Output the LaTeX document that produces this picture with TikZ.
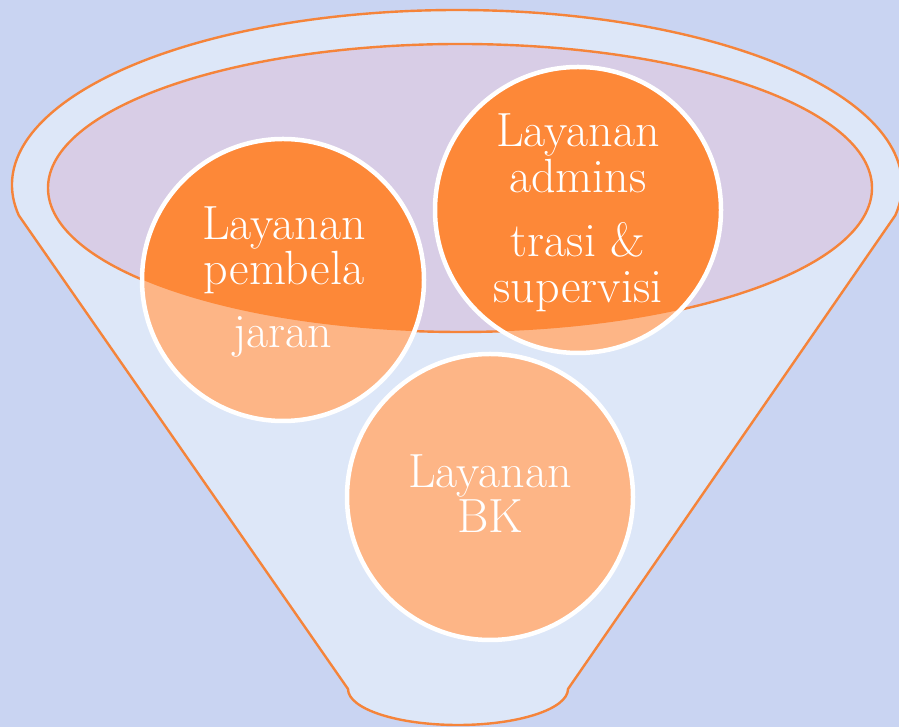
\documentclass[tikz,border=0pt]{standalone}
\usepackage{tikz}
\definecolor{Sky}{HTML}{C9D4F2}
\definecolor{Mist}{HTML}{DDE7F8}
\definecolor{Blush}{HTML}{D8CDE6}
\definecolor{Rim}{HTML}{F5843A}
\definecolor{Deep}{HTML}{FD8838}
\definecolor{Soft}{HTML}{FDB586}
\tikzset{
  bubble/.style={circle,fill=Soft,draw=none,inner sep=0pt},
  ring/.style={draw=white,line width=4.5pt},
  rim/.style={draw=Rim,line width=2.4pt},
  txt/.style={anchor=base,text=white,inner sep=0pt,font=\fontsize{48}{50}\selectfont}
}

\begin{document}
\begin{tikzpicture}[x=1pt,y=1pt]
  \fill[Sky] (0,0) rectangle (899,727);
  \useasboundingbox (0,0) rectangle (899,727);
  % funnel body
  \coordinate (lc) at (18.8,511.6); \coordinate (rb) at (568,38);
  \coordinate (mid) at (460,539);
  \filldraw[rim,fill=Mist] (lc) arc[start angle=190,end angle=-10,x radius=445pt,y radius=175pt]
    -- (rb) arc[start angle=0,end angle=-180,x radius=110pt,y radius=36pt] -- cycle;
  \filldraw[rim,fill=Blush] (mid) ellipse[x radius=412pt,y radius=144pt];
  % bubbles
  \node[bubble,minimum size=282pt] (pem) at (283,447) {};
  \node[bubble,minimum size=286pt] (adm) at (578,517) {};
  \node[bubble,minimum size=286pt] (bk) at (490,230) {};
  \begin{scope}
    \clip (mid) ellipse[x radius=412pt,y radius=144pt];
    \fill[Deep] (pem.center) circle[radius=141pt] (adm.center) circle[radius=143pt];
  \end{scope}
  \draw[ring] (pem.center) circle[radius=141pt] (adm.center) circle[radius=143pt]
    (bk.center) circle[radius=143pt];
  % labels
  \node[txt] (pem1) at (284,487) {Layanan};
  \node[txt] (pem2) at (284,442) {pembela};
  \node[txt] (pem3) at (283,379) {jaran};
  \node[txt] (adm1) at (578,580) {Layanan};
  \node[txt] (adm2) at (578,534) {admins};
  \node[txt] (adm3) at (578,470) {trasi \&};
  \node[txt] (adm4) at (578,424) {supervisi};
  \node[txt] (bk1) at (490,239) {Layanan};
  \node[txt] (bk2) at (490,194) {BK};
\end{tikzpicture}
\end{document}
